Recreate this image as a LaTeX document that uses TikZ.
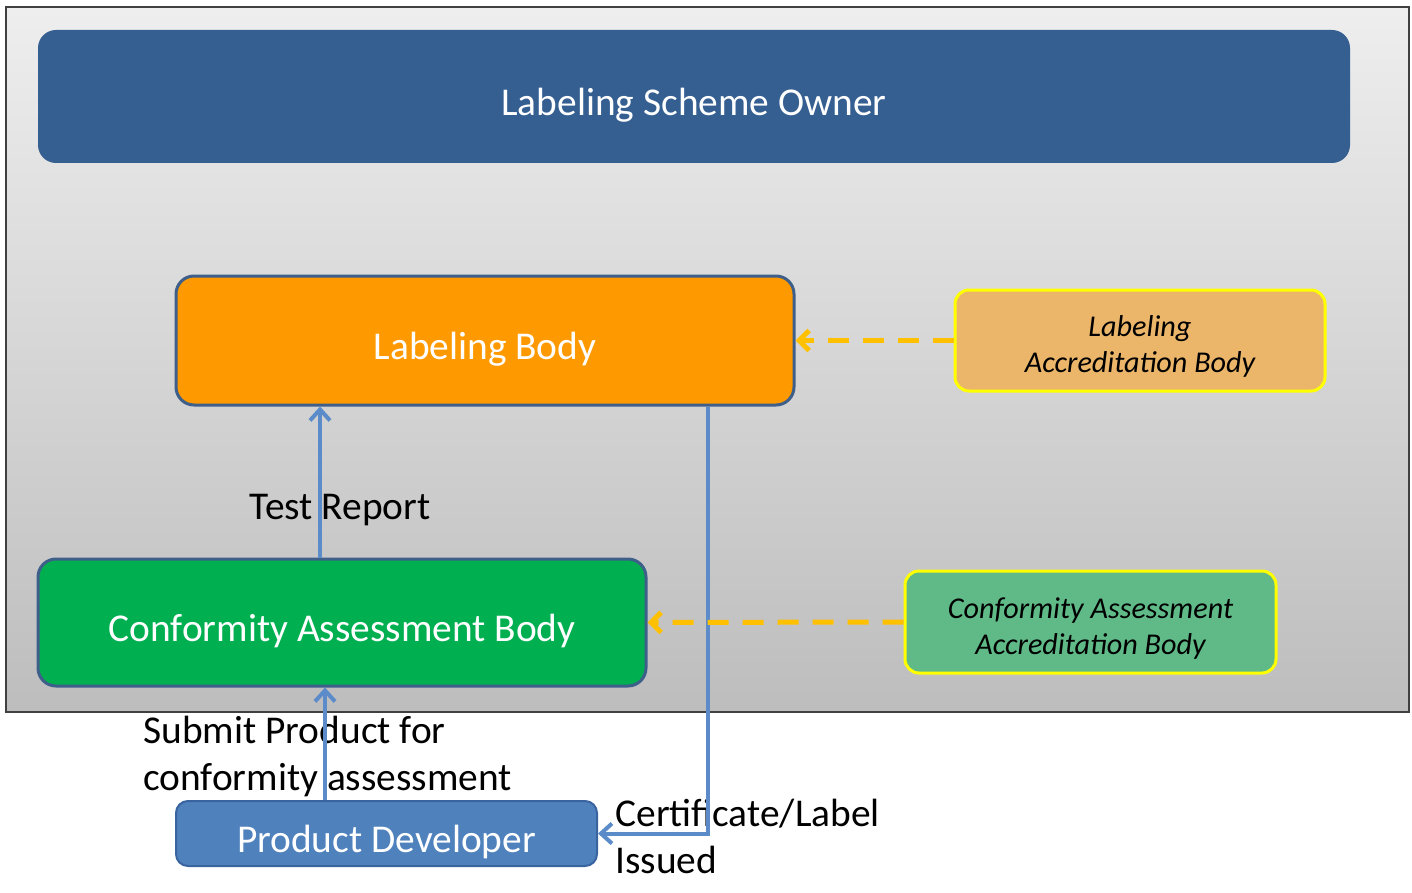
\documentclass[tikz,border=0pt]{standalone}
\usepackage{fontspec}
\setmainfont{Carlito}
\usetikzlibrary{arrows.meta}
\definecolor{ownerblue}{HTML}{355F91}
\definecolor{lborange}{HTML}{FF9900}
\definecolor{boxedge}{HTML}{3E5F8A}
\definecolor{labfill}{HTML}{EBB66A}
\definecolor{cabgreen}{HTML}{00B050}
\definecolor{caabfill}{HTML}{5FBA88}
\definecolor{pdblue}{HTML}{4F81BD}
\definecolor{pdedge}{HTML}{3A64A0}
\definecolor{linkblue}{HTML}{5B8BC9}
\definecolor{dashorange}{HTML}{FFC000}
\definecolor{accyellow}{HTML}{FFFF00}
\definecolor{bgtop}{HTML}{EEEEEE}
\definecolor{bgbottom}{HTML}{BDBDBD}
\newcommand{\accstrut}{\rule{0pt}{16.5pt}}
\begin{document}
\begin{tikzpicture}[x=0.5pt,y=-0.5pt,
  mainbox/.style={rounded corners=9pt, text=white, font=\fontsize{19.7}{23.6}\selectfont, inner sep=0pt, text height=19.2pt, text depth=0.5pt},
  accbox/.style={rounded corners=7pt, draw=accyellow, line width=1.5pt, font=\fontsize{15.1}{18}\selectfont\itshape, align=center, inner sep=0pt},
  flow/.style={draw=linkblue, line width=2pt, -{Straight Barb[length=5.5pt,width=10pt]}},
  accredit/.style={draw=dashorange, line width=2.5pt, dash pattern=on 10.5pt off 7pt, -{Straight Barb[length=5pt,width=10pt]}},
  lbl/.style={font=\fontsize{19.7}{23.6}\selectfont, align=left, inner sep=0pt, text=black}]
\useasboundingbox (0,0) rectangle (1412,893);
\node[draw=black!75, line width=1pt, top color=bgtop, bottom color=bgbottom, minimum width=701.5pt, minimum height=352.5pt, inner sep=0pt] (frame) at (707.5,359.5) {};

\node[mainbox, fill=ownerblue, minimum width=656pt, minimum height=66.5pt] (owner) at (694,96.5) {Labeling Scheme Owner};
\node[mainbox, fill=lborange, draw=boxedge, line width=1.5pt, minimum width=309pt, minimum height=64.5pt] (lb) at (485,340.5) {Labeling Body};
\node[accbox, fill=labfill, minimum width=185pt, minimum height=50.5pt] (lab) at (1140,340.5) {\accstrut Labeling\\Accreditation Body};
\node[mainbox, fill=cabgreen, draw=boxedge, line width=1.5pt, minimum width=304pt, minimum height=63.5pt] (cab) at (342,622.5) {Conformity Assessment Body};
\node[accbox, fill=caabfill, minimum width=185.5pt, minimum height=51pt] (caab) at (1090.5,622) {\accstrut Conformity Assessment\\Accreditation Body};
\node[mainbox, rounded corners=6pt, fill=pdblue, draw=pdedge, line width=1pt, minimum width=210.5pt, minimum height=32.5pt] (pd) at (386.5,833.5) {Product Developer};

\coordinate (xtr) at (320,0);
\coordinate (xsp) at (325,0);
\coordinate (xcl) at (708,0);

\node[lbl, anchor=base west] (ltr) at (249,519) {Test Report};
\node[lbl, anchor=north west] (lsp) at (143,716) {Submit Product for\\conformity assessment};
\node[lbl, anchor=north west] (lcl) at (615,799) {Certificate/Label\\Issued};

\draw[flow] (cab.north -| xtr) -- (lb.south -| xtr);
\draw[flow] (pd.north -| xsp) -- (cab.south -| xsp);
\draw[flow] (lb.south -| xcl) |- (pd.east);
\draw[accredit] (lab.west) -- (lb.east);
\draw[accredit] (caab.west) -- (cab.east);
\end{tikzpicture}
\end{document}
